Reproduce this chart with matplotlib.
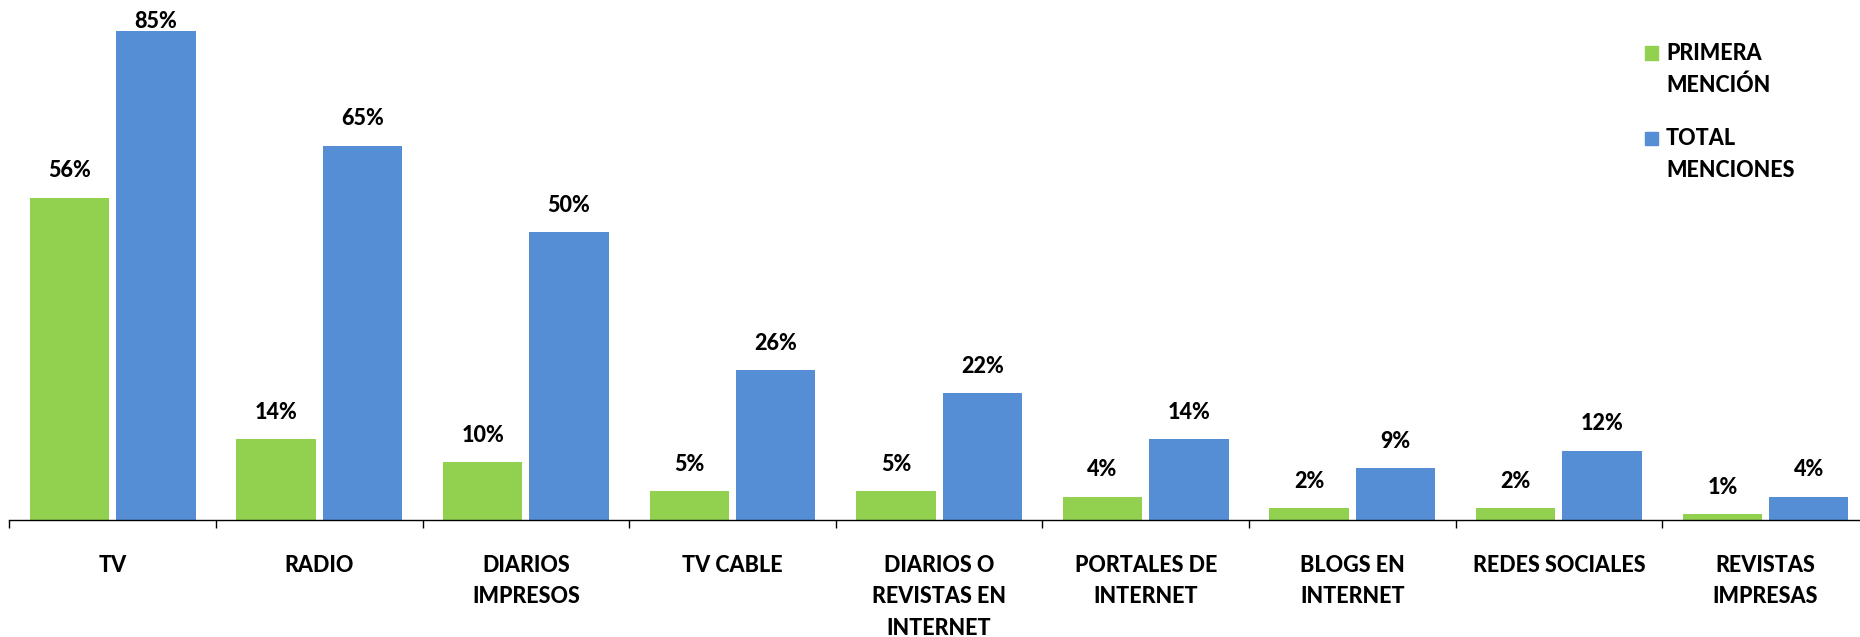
import matplotlib.pyplot as plt
import numpy as np
from matplotlib.patches import Rectangle

categorias = ['TV', 'RADIO', 'DIARIOS\nIMPRESOS', 'TV CABLE', 'DIARIOS O\nREVISTAS EN\nINTERNET',
              'PORTALES DE\nINTERNET', 'BLOGS EN\nINTERNET', 'REDES SOCIALES', 'REVISTAS\nIMPRESAS']
primera = [56, 14, 10, 5, 5, 4, 2, 2, 1]
total = [85, 65, 50, 26, 22, 14, 9, 12, 4]
series = ['PRIMERA\nMENCIÓN', 'TOTAL\nMENCIONES']
colores = ['#92D050', '#558ED5']

plt.rcParams['font.family'] = ['Lato', 'DejaVu Sans']
fs = 15.5
peso = 900

fig = plt.figure(figsize=(18.6, 6.37), dpi=100)
ax = fig.add_axes([9.4 / 1860, 117 / 637, 9 * 206.6 / 1860, 518 / 637])

x = np.arange(len(categorias))
w = 0.385
off = 0.209
b1 = ax.bar(x - off, primera, w, color=colores[0])
b2 = ax.bar(x + off, total, w, color=colores[1])

# etiquetas de valores
for bars, vals in [(b1, primera), (b2, total)]:
    for b, v in zip(bars, vals):
        ax.text(b.get_x() + b.get_width() / 2, min(v + 4.7, 86.6), f'{v}%',
                ha='center', va='center', fontsize=fs, fontweight=peso)

ax.set_xlim(-0.5, len(categorias) - 0.5)
ax.set_ylim(0, 90)
ax.set_yticks([])
for s in ['top', 'right', 'left']:
    ax.spines[s].set_visible(False)
ax.spines['bottom'].set_color('#000000')
ax.spines['bottom'].set_linewidth(1)

ax.set_xticks(x)
ax.set_xticklabels(categorias, fontsize=fs, fontweight=peso, linespacing=1.62, va='top')
ax.tick_params(axis='x', which='major', length=0, pad=25)
ax.set_xticks(np.arange(len(categorias) + 1) - 0.5, minor=True)
ax.tick_params(axis='x', which='minor', length=6, width=1, color='#000000')

# leyenda
leg_y = [53 / 637, 138 / 637]
for nombre, col, yy in zip(series, colores, leg_y):
    fig.patches.append(Rectangle((1645 / 1860, 1 - yy - 6.5 / 637), 13 / 1860, 13 / 637,
                                 transform=fig.transFigure, color=col))
    fig.text(1666 / 1860, 1 - yy + 10 / 637, nombre, fontsize=fs, fontweight=peso,
             va='top', ha='left', linespacing=1.62)

plt.savefig('out.png', dpi=100)
